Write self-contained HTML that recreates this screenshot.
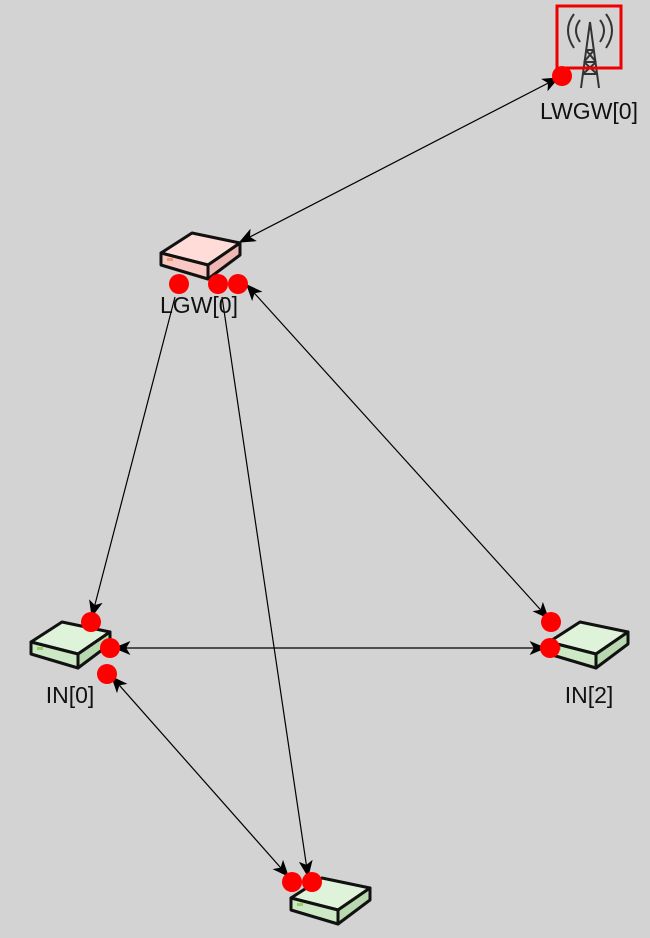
<!DOCTYPE html>
<html><head><meta charset="utf-8"><style>
html,body{margin:0;padding:0;background:#d3d3d3;}
svg{display:block;}
text{font-family:"Liberation Sans","DejaVu Sans",sans-serif;font-size:23px;fill:#111;}
</style></head><body>
<svg width="650" height="938" viewBox="0 0 650 938" xmlns="http://www.w3.org/2000/svg">
<defs>
<marker id="a" viewBox="0 0 12 10" refX="11" refY="5" markerWidth="17" markerHeight="14" orient="auto-start-reverse" markerUnits="userSpaceOnUse">
<path d="M0,0 L12,5 L0,10 L3,5 z" fill="#000"/></marker>
<g id="boxg">
<path d="M1,20 L32,0 L80,10 L48,32 Z" fill="#dff2da" stroke="#111" stroke-width="3" stroke-linejoin="round"/>
<path d="M48,32 L80,10 L80,22 L48,46 Z" fill="#b8d8b0" stroke="#111" stroke-width="3" stroke-linejoin="round"/>
<path d="M1,20 L48,32 L48,46 L1,32 Z" fill="#cde8c4" stroke="#111" stroke-width="3" stroke-linejoin="round"/>
<rect x="7" y="25" width="6" height="3" fill="#9c6"/>
</g>
<g id="boxr">
<path d="M1,20 L32,0 L80,10 L48,32 Z" fill="#ffdcd8" stroke="#111" stroke-width="3" stroke-linejoin="round"/>
<path d="M48,32 L80,10 L80,22 L48,46 Z" fill="#f0b8b2" stroke="#111" stroke-width="3" stroke-linejoin="round"/>
<path d="M1,20 L48,32 L48,46 L1,32 Z" fill="#fac8c2" stroke="#111" stroke-width="3" stroke-linejoin="round"/>
<rect x="7" y="25" width="6" height="3" fill="#e96"/>
</g>
</defs>
<g stroke="#000" stroke-width="1.2" fill="none">
<line x1="558" y1="78" x2="240" y2="242" marker-start="url(#a)" marker-end="url(#a)"/>
<line x1="175" y1="297" x2="92" y2="616" marker-end="url(#a)"/>
<line x1="222" y1="297" x2="308" y2="876" marker-end="url(#a)"/>
<line x1="247" y1="285" x2="548" y2="618" marker-start="url(#a)" marker-end="url(#a)"/>
<line x1="115" y1="648" x2="545" y2="648" marker-start="url(#a)" marker-end="url(#a)"/>
<line x1="112" y1="677" x2="288" y2="876" marker-start="url(#a)" marker-end="url(#a)"/>
</g>
<use href="#boxr" x="160" y="233"/>
<use href="#boxg" x="30" y="622"/>
<use href="#boxg" x="548" y="622"/>
<use href="#boxg" x="290" y="878"/>
<g stroke="#333" fill="none" stroke-width="2">
<path d="M580,20 Q572,30 580,42"/><path d="M574,14 Q562,30 574,48"/>
<path d="M600,20 Q608,30 600,42"/><path d="M606,14 Q618,30 606,48"/>
<path d="M590,22 L581,88 M590,22 L599,88"/>
<path d="M586,50 L594,50 M584,62 L596,62 M583,74 L597,74 M586,50 L596,62 M594,50 L584,62 M584,62 L597,74 M596,62 L583,74"/>
</g>
<rect x="557" y="6" width="64" height="62" fill="none" stroke="#e00" stroke-width="3"/>
<g fill="#f00">
<circle cx="562" cy="76" r="10"/>
<circle cx="179" cy="284" r="10"/><circle cx="218" cy="284" r="10"/><circle cx="238" cy="284" r="10"/>
<circle cx="91" cy="622" r="10"/><circle cx="110" cy="648" r="10"/><circle cx="107" cy="674" r="10"/>
<circle cx="551" cy="622" r="10"/><circle cx="550" cy="648" r="10"/>
<circle cx="292" cy="882" r="10"/><circle cx="312" cy="882" r="10"/>
</g>
<text x="589" y="119" text-anchor="middle">LWGW[0]</text>
<text x="199" y="313" text-anchor="middle">LGW[0]</text>
<text x="70" y="703" text-anchor="middle">IN[0]</text>
<text x="589" y="703" text-anchor="middle">IN[2]</text>
</svg>
</body></html>
